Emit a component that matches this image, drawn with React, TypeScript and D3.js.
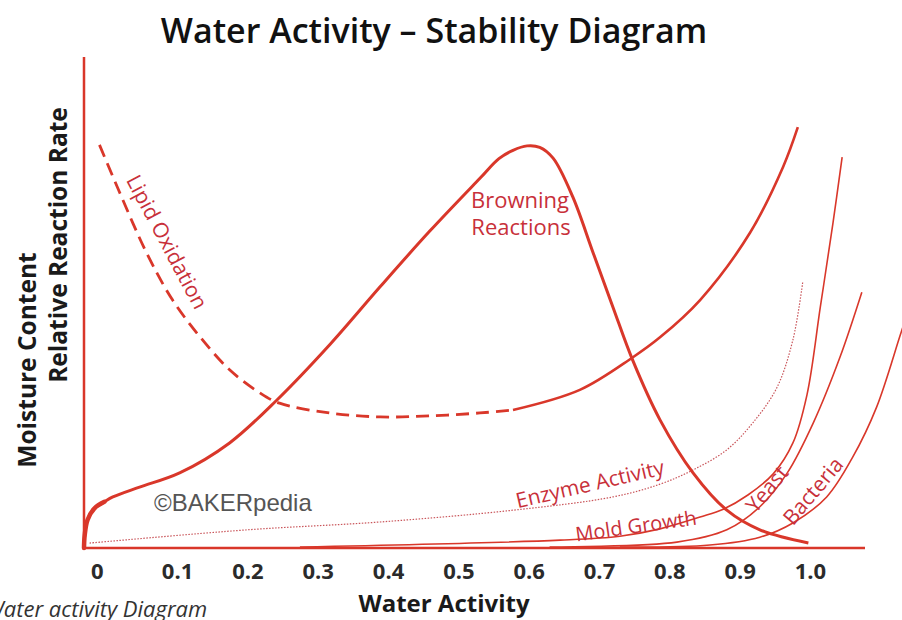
import React, { useEffect, useRef } from 'react';
import * as d3 from 'd3';

// water activity (x) vs relative rate (y, 0-100 of plot height)
type Pt = { aw: number; rate: number };

const browning: Pt[] = [
  { aw: -0.033, rate: 0 }, { aw: -0.032, rate: 2.6 }, { aw: -0.028, rate: 5.7 },
  { aw: -0.018, rate: 8.1 }, { aw: -0.004, rate: 9.4 }, { aw: 0.008, rate: 10.4 },
  { aw: 0.046, rate: 12.4 }, { aw: 0.103, rate: 15.3 }, { aw: 0.174, rate: 21.4 },
  { aw: 0.241, rate: 30.1 }, { aw: 0.317, rate: 41.5 }, { aw: 0.388, rate: 53.2 },
  { aw: 0.459, rate: 64.6 }, { aw: 0.53, rate: 75.3 }, { aw: 0.557, rate: 79.3 },
  { aw: 0.577, rate: 81.0 }, { aw: 0.597, rate: 81.9 }, { aw: 0.615, rate: 81.6 },
  { aw: 0.634, rate: 79.4 }, { aw: 0.662, rate: 71.5 }, { aw: 0.691, rate: 60.1 },
  { aw: 0.719, rate: 49.1 }, { aw: 0.747, rate: 38.3 }, { aw: 0.786, rate: 26.1 },
  { aw: 0.833, rate: 15.3 }, { aw: 0.881, rate: 7.7 }, { aw: 0.928, rate: 3.7 },
  { aw: 0.997, rate: 1.0 },
];

const lipidDashed: Pt[] = [
  { aw: -0.011, rate: 82.1 }, { aw: 0.018, rate: 72.3 }, { aw: 0.056, rate: 60.1 },
  { aw: 0.093, rate: 50.5 }, { aw: 0.132, rate: 43.0 }, { aw: 0.174, rate: 36.3 },
  { aw: 0.217, rate: 31.6 }, { aw: 0.245, rate: 29.5 }, { aw: 0.316, rate: 27.5 },
  { aw: 0.388, rate: 26.7 }, { aw: 0.459, rate: 26.9 }, { aw: 0.53, rate: 27.5 },
  { aw: 0.577, rate: 28.1 },
];

const lipidSolid: Pt[] = [
  { aw: 0.53, rate: 27.5 }, { aw: 0.577, rate: 28.1 }, { aw: 0.672, rate: 32.2 },
  { aw: 0.746, rate: 38.7 }, { aw: 0.786, rate: 42.9 }, { aw: 0.843, rate: 50.5 },
  { aw: 0.914, rate: 64.2 }, { aw: 0.961, rate: 77.6 }, { aw: 0.982, rate: 85.7 },
];

const enzyme: Pt[] = [
  { aw: -0.025, rate: 1.0 }, { aw: 0.199, rate: 3.7 }, { aw: 0.388, rate: 5.3 },
  { aw: 0.577, rate: 7.7 }, { aw: 0.719, rate: 10.4 }, { aw: 0.786, rate: 13.0 },
  { aw: 0.833, rate: 15.9 }, { aw: 0.881, rate: 20.0 }, { aw: 0.918, rate: 25.5 },
  { aw: 0.952, rate: 32.6 }, { aw: 0.975, rate: 42.4 }, { aw: 0.989, rate: 54.2 },
];

const mold: Pt[] = [
  { aw: 0.274, rate: 0.2 }, { aw: 0.644, rate: 1.6 }, { aw: 0.729, rate: 2.4 },
  { aw: 0.786, rate: 3.9 }, { aw: 0.843, rate: 6.3 }, { aw: 0.876, rate: 7.9 },
  { aw: 0.911, rate: 10.8 }, { aw: 0.947, rate: 15.1 }, { aw: 0.975, rate: 21.4 },
  { aw: 0.995, rate: 31.2 }, { aw: 1.014, rate: 49.1 }, { aw: 1.032, rate: 66.2 },
  { aw: 1.045, rate: 79.6 },
];

const yeast: Pt[] = [
  { aw: 0.629, rate: 0.2 }, { aw: 0.81, rate: 1.2 }, { aw: 0.881, rate: 3.7 },
  { aw: 0.928, rate: 8.4 }, { aw: 0.967, rate: 15.3 }, { aw: 1.004, rate: 25.5 },
  { aw: 1.042, rate: 38.9 }, { aw: 1.073, rate: 52.1 },
];

const bacteria: Pt[] = [
  { aw: 0.729, rate: 0.2 }, { aw: 0.857, rate: 0.6 }, { aw: 0.928, rate: 2.2 },
  { aw: 0.975, rate: 5.1 }, { aw: 1.023, rate: 10.4 }, { aw: 1.06, rate: 18.5 },
  { aw: 1.094, rate: 28.7 }, { aw: 1.13, rate: 44.4 }, { aw: 1.145, rate: 50.5 },
];

const tickValues = [0, 0.1, 0.2, 0.3, 0.4, 0.5, 0.6, 0.7, 0.8, 0.9, 1.0];
const tickLabels = ['0', '0.1', '0.2', '0.3', '0.4', '0.5', '0.6', '0.7', '0.8', '0.9', '1.0'];

const RED = '#d9372a';
const TEXT_RED = '#c8303a';
const FONT = '"Open Sans", "Noto Sans", sans-serif';

const App: React.FC = () => {
  const ref = useRef<SVGSVGElement>(null);

  useEffect(() => {
    if (!ref.current) return;
    const svg = d3.select(ref.current);
    svg.selectAll('*').remove();

    const x = d3.scaleLinear().domain([-0.033, 1.0775]).range([84, 865]);
    const y = d3.scaleLinear().domain([0, 100]).range([548, 57]);

    const line = d3.line<Pt>()
      .x(d => x(d.aw))
      .y(d => y(d.rate))
      .curve(d3.curveCatmullRom.alpha(0.5));

    // title
    svg.append('text')
      .attr('x', 434).attr('y', 43)
      .attr('text-anchor', 'middle')
      .style('font-family', FONT).style('font-weight', 600).style('font-size', '34px')
      .attr('fill', '#111')
      .text('Water Activity – Stability Diagram');

    // curves
    svg.append('path').datum(enzyme)
      .attr('d', line).attr('fill', 'none')
      .attr('stroke', '#c9555a').attr('stroke-width', 1.2)
      .attr('stroke-dasharray', '1.5,1.5');

    [mold, yeast, bacteria].forEach(s => {
      svg.append('path').datum(s)
        .attr('d', line).attr('fill', 'none')
        .attr('stroke', RED).attr('stroke-width', 1.6);
    });

    svg.append('path').datum(lipidDashed)
      .attr('d', line).attr('fill', 'none')
      .attr('stroke', RED).attr('stroke-width', 2.8)
      .attr('stroke-dasharray', '13,7');

    // solid part starts at the 0.577 point; the leading point only shapes the curve
    const solidLine = d3.line<Pt>()
      .x(d => x(d.aw))
      .y(d => y(d.rate))
      .defined(d => d.aw >= 0.577)
      .curve(d3.curveCatmullRom.alpha(0.5));
    svg.append('path').datum(lipidSolid)
      .attr('d', solidLine).attr('fill', 'none')
      .attr('stroke', RED).attr('stroke-width', 2.6);

    svg.append('path').datum(browning)
      .attr('d', line).attr('fill', 'none')
      .attr('stroke', RED).attr('stroke-width', 3);

    // thicker start near the origin
    svg.append('path').datum(browning.slice(0, 5))
      .attr('d', line).attr('fill', 'none')
      .attr('stroke', RED).attr('stroke-width', 4.5)
      .attr('stroke-linecap', 'round');

    // axes
    svg.append('line')
      .attr('x1', x(-0.033)).attr('x2', x(-0.033))
      .attr('y1', y(0)).attr('y2', y(100))
      .attr('stroke', RED).attr('stroke-width', 2.5);
    svg.append('line')
      .attr('x1', x(-0.033)).attr('x2', x(1.0775))
      .attr('y1', y(0)).attr('y2', y(0))
      .attr('stroke', RED).attr('stroke-width', 2.5);

    svg.append('g')
      .selectAll('text')
      .data(tickValues)
      .join('text')
      .attr('x', (d, i) => x(d) + (i === 0 ? -10 : 0))
      .attr('y', 579)
      .attr('text-anchor', 'middle')
      .style('font-family', FONT).style('font-weight', 700).style('font-size', '22px')
      .attr('fill', '#2b2b2b')
      .text((d, i) => tickLabels[i]);

    svg.append('text')
      .attr('x', 444).attr('y', 612)
      .attr('text-anchor', 'middle')
      .style('font-family', FONT).style('font-weight', 700).style('font-size', '24px')
      .attr('fill', '#1a1a1a')
      .text('Water Activity');

    svg.append('text')
      .attr('transform', 'translate(36,360) rotate(-90)')
      .attr('text-anchor', 'middle')
      .style('font-family', FONT).style('font-weight', 700).style('font-size', '24.5px')
      .attr('fill', '#1a1a1a')
      .text('Moisture Content');
    svg.append('text')
      .attr('transform', 'translate(67,245) rotate(-90)')
      .attr('text-anchor', 'middle')
      .style('font-family', FONT).style('font-weight', 700).style('font-size', '24.5px')
      .attr('fill', '#1a1a1a')
      .text('Relative Reaction Rate');

    // caption, cut at the left edge as in the source image
    svg.append('text')
      .attr('x', -15).attr('y', 617)
      .style('font-family', FONT).style('font-style', 'italic').style('font-size', '22px')
      .attr('fill', '#333')
      .text('Water activity Diagram');

    svg.append('text')
      .attr('x', 154).attr('y', 511)
      .style('font-family', '"Liberation Sans", Arial, sans-serif').style('font-size', '24px')
      .attr('fill', '#555')
      .text('©BAKERpedia');

    // curve labels
    const label = (txt: string, cx: number, cy: number, angle: number, size = 21) =>
      svg.append('text')
        .attr('transform', `translate(${cx},${cy}) rotate(${angle})`)
        .attr('text-anchor', 'middle')
        .attr('dy', '0.35em')
        .style('font-family', FONT).style('font-size', `${size}px`)
        .attr('fill', TEXT_RED)
        .text(txt);

    label('Browning', 520, 200, 0, 22);
    label('Reactions', 521, 227, 0, 22);
    label('Lipid Oxidation', 167, 242, 62, 21);
    label('Enzyme Activity', 590, 484, -13, 21);
    label('Mold Growth', 636, 526, -8, 20);
    label('Yeast', 767, 489, -50, 21);
    label('Bacteria', 813, 491, -50, 21);
  }, []);

  return (
    <svg
      ref={ref}
      width={902}
      height={620}
      style={{ position: 'absolute', left: 0, top: 0, background: '#fff' }}
    />
  );
};

export default App;
